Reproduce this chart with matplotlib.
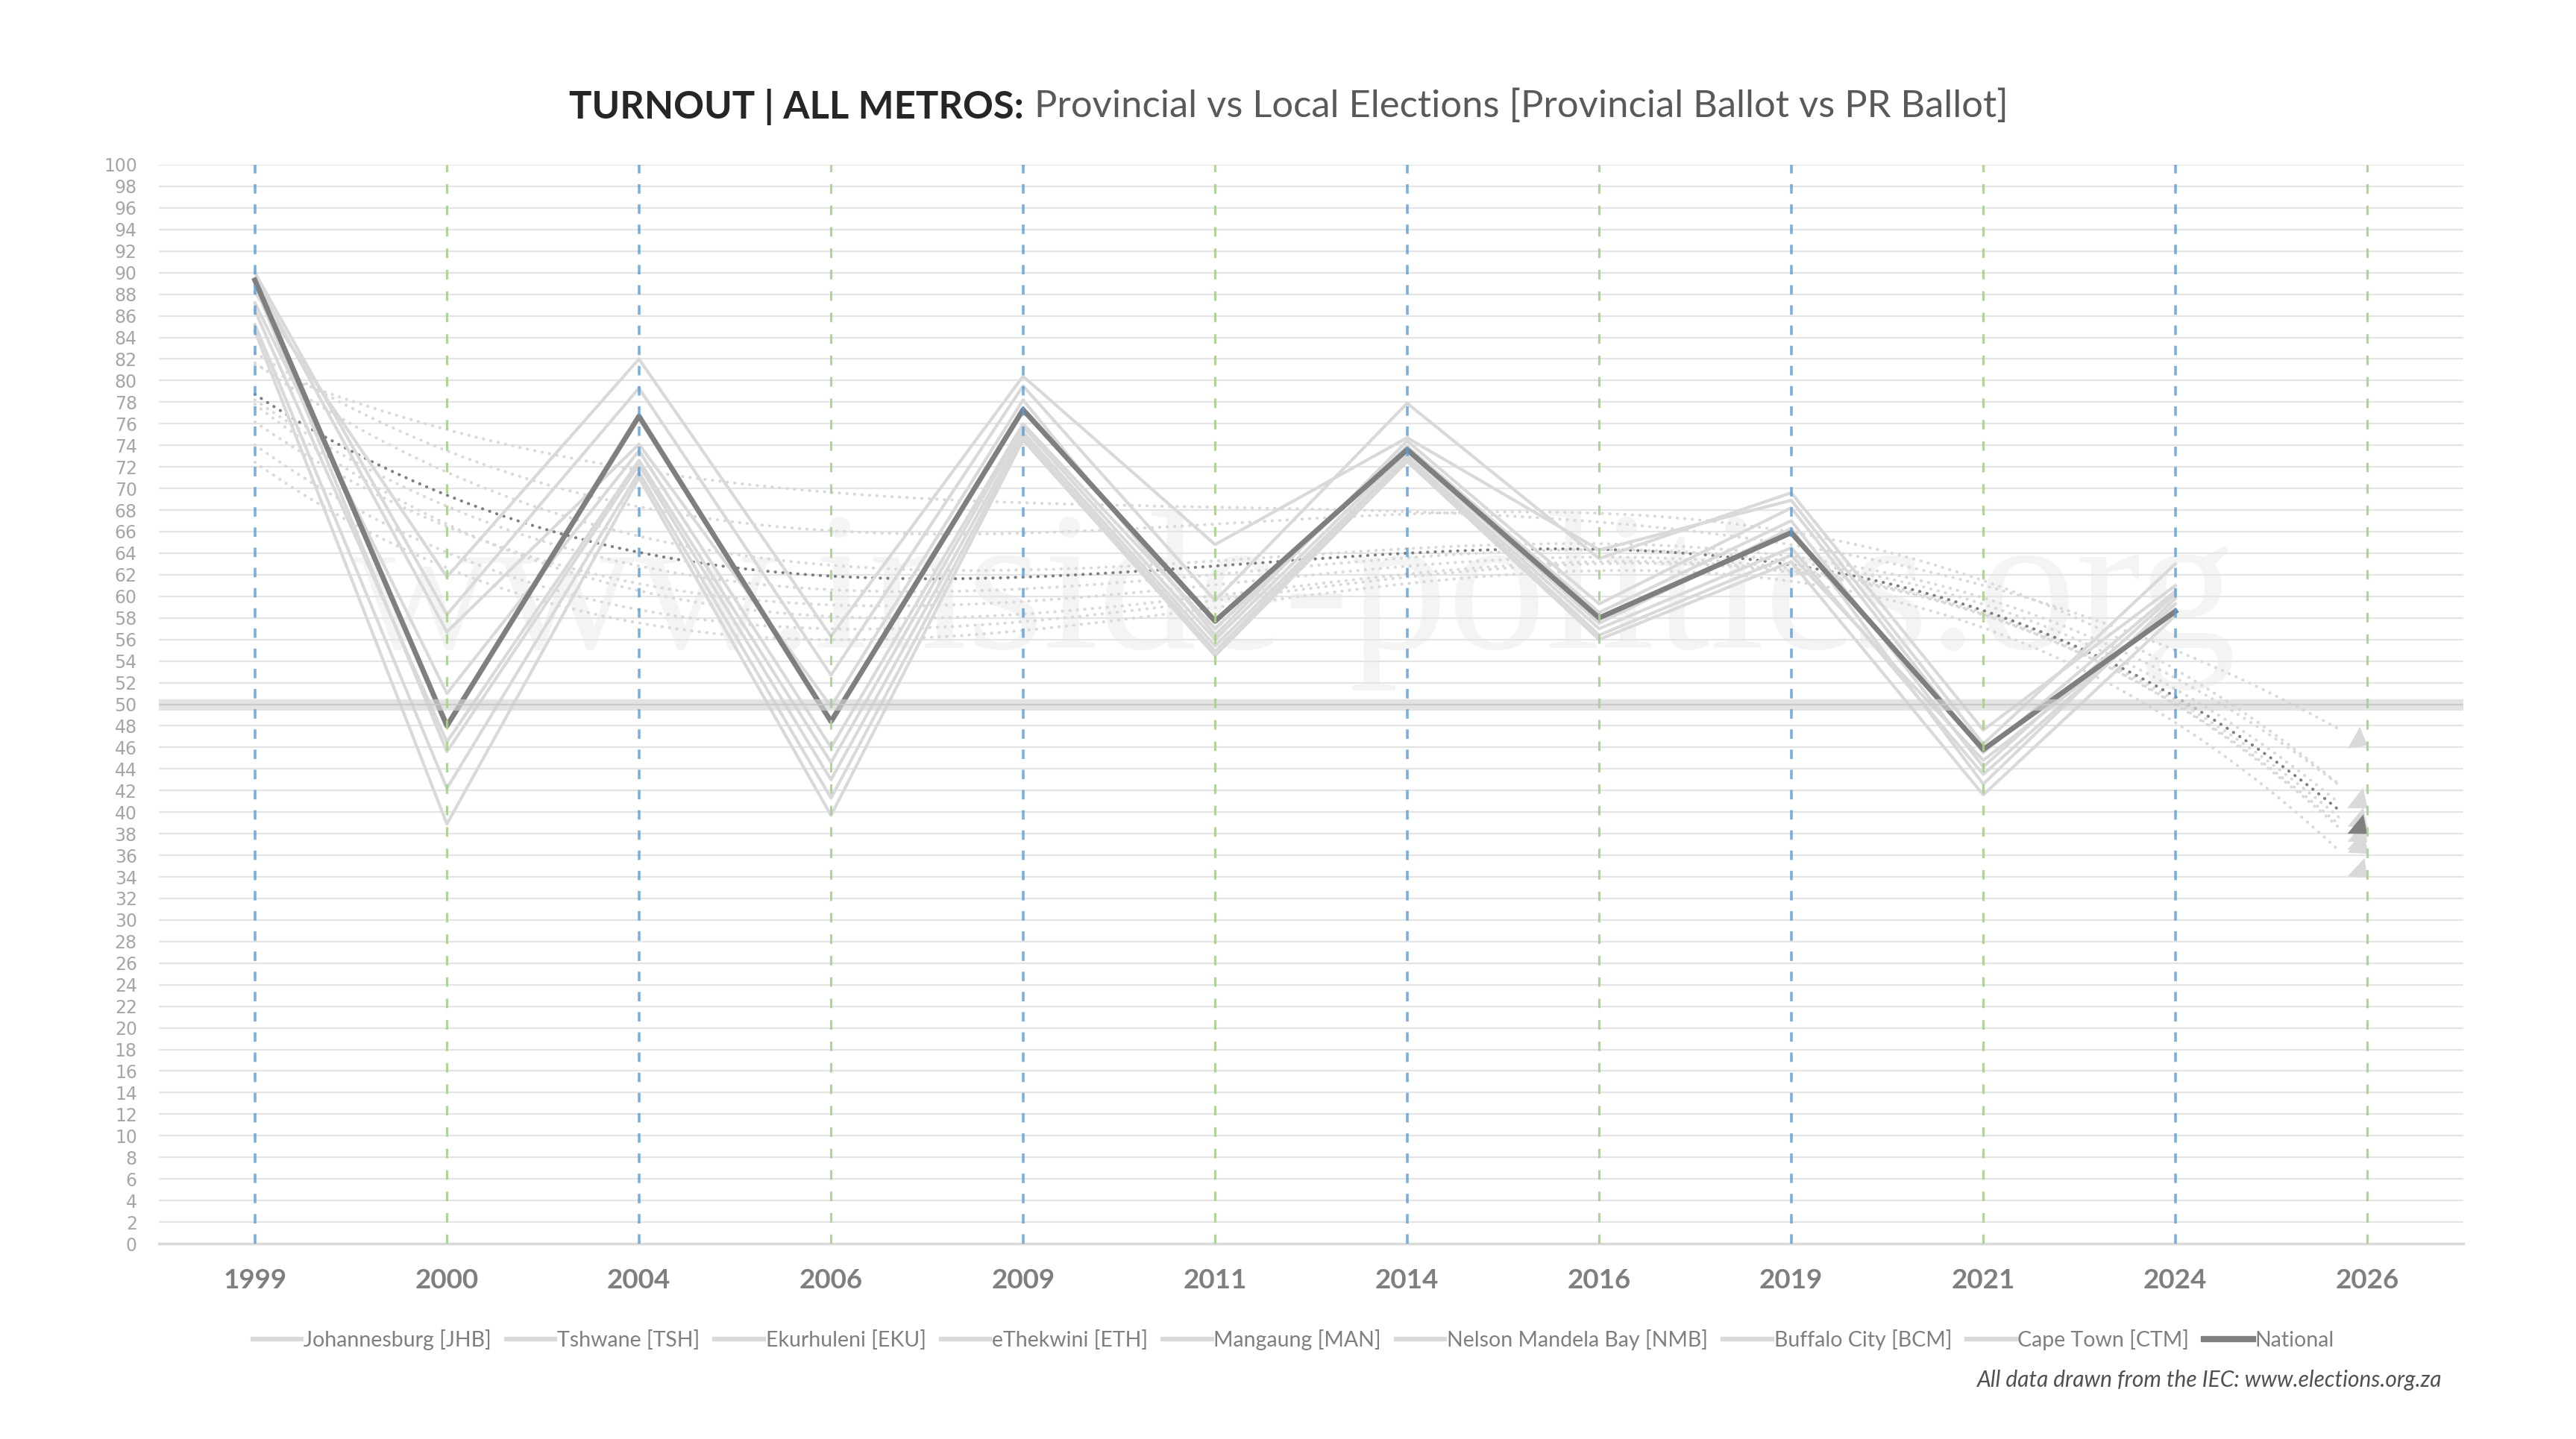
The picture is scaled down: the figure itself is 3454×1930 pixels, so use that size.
import numpy as np
import matplotlib.pyplot as plt
from matplotlib.lines import Line2D

# categories on the x axis (2026 has no data yet, trend lines run to it)
years = ["1999", "2000", "2004", "2006", "2009", "2011", "2014", "2016", "2019", "2021", "2024", "2026"]
national_years = ["1999", "2004", "2009", "2014", "2019", "2024"]
local_years = ["2000", "2006", "2011", "2016", "2021", "2026"]

# turnout % (provincial ballot / PR ballot), 1999 .. 2024
jhb = [87.2, 51.0, 73.5, 46.0, 76.0, 57.0, 73.9, 58.5, 67.0, 44.2, 60.2]
tsh = [86.5, 46.5, 72.6, 44.6, 75.7, 56.0, 73.4, 57.5, 66.3, 42.6, 59.8]
eku = [89.5, 56.7, 74.1, 49.8, 78.2, 56.4, 74.4, 59.3, 68.2, 45.5, 60.5]
eth = [88.8, 45.6, 72.2, 43.0, 75.2, 55.4, 73.0, 57.0, 64.5, 43.5, 59.3]
man = [85.2, 42.2, 71.5, 41.3, 74.8, 54.9, 72.8, 56.4, 63.8, 44.8, 58.8]
nmb = [90.0, 58.3, 79.3, 52.7, 79.5, 59.6, 77.9, 63.5, 69.6, 47.6, 61.0]
bcm = [84.6, 38.9, 71.0, 39.7, 74.5, 54.5, 72.5, 56.0, 63.2, 41.6, 58.2]
ctm = [88.2, 61.8, 82.0, 56.3, 80.4, 64.8, 74.7, 64.3, 68.9, 46.3, 63.0]
national = [89.3, 48.0, 76.7, 48.4, 77.3, 57.7, 73.6, 58.0, 65.9, 45.8, 58.6]

metro_names = ["Johannesburg [JHB]", "Tshwane [TSH]", "Ekurhuleni [EKU]", "eThekwini [ETH]",
               "Mangaung [MAN]", "Nelson Mandela Bay [NMB]", "Buffalo City [BCM]", "Cape Town [CTM]"]
metros = [jhb, tsh, eku, eth, man, nmb, bcm, ctm]

LIGHT = '#D9D9D9'
DARK = '#7F7F7F'

plt.rcParams['font.family'] = ['Lato', 'DejaVu Sans']

W, H = 3455, 1930
fig = plt.figure(figsize=(W / 100, H / 100), dpi=100)
ax = fig.add_axes([213 / W, 1 - 1668 / H, (3303 - 213) / W, (1668 - 221) / H])

x = np.arange(len(years))
xd = np.arange(len(national))
ax.set_xlim(-0.5, len(years) - 0.5)
ax.set_ylim(0, 100)
ax.set_yticks(range(0, 101, 2))
ax.set_xticks(x, years)
ax.set_axisbelow(True)
ax.grid(axis='y', color='#E4E4E4', lw=1.6)
for s in ['top', 'right', 'left']:
    ax.spines[s].set_visible(False)
ax.spines['bottom'].set_color('#D9D9D9')
ax.spines['bottom'].set_linewidth(2.5)
ax.tick_params(axis='both', length=0)
ax.tick_params(axis='x', pad=24, labelsize=26.5, labelcolor=DARK)
ax.tick_params(axis='y', pad=21, labelsize=17, labelcolor='#A6A6A6')
for lab in ax.get_xticklabels():
    lab.set_fontweight('bold')
for lab in ax.get_yticklabels():
    lab.set_family('DejaVu Sans')

# watermark
ax.text(0.4926, 0.552, "www.inside-politics.org", transform=ax.transAxes, ha='center', va='baseline',
        fontsize=190, family='Liberation Serif', color='#F4F4F4', zorder=0.1)

# polynomial (order 3) trend lines, forward one period, with arrow heads
xf = np.linspace(0, len(years) - 1, 300)
for vals, col in [(m, LIGHT) for m in metros] + [(national, DARK)]:
    coef = np.polyfit(xd, vals, 3)
    yf = np.polyval(coef, xf)
    ax.plot(xf[:-4], yf[:-4], color=col, lw=2.9, ls=(0, (0.1, 2.4)), dash_capstyle='round', zorder=2)
    ax.annotate('', xy=(xf[-1], yf[-1]), xytext=(xf[-8], yf[-8]),
                arrowprops=dict(arrowstyle='-|>,head_length=0.5,head_width=0.4', color=col,
                                lw=0, mutation_scale=30, shrinkA=0, shrinkB=0), zorder=2)

# data lines
for vals, name in zip(metros, metro_names):
    ax.plot(xd, vals, color=LIGHT, lw=3, zorder=3, label=name)
ax.plot(xd, national, color=DARK, lw=5, zorder=4, label="National")

# 50% line
ax.axhline(50, color='#D4D4D4', lw=11, alpha=0.65, zorder=5)
ax.axhline(50, color='#C8C8C8', lw=1.5, alpha=0.8, zorder=5)

# election markers
for yr in national_years:
    ax.vlines(years.index(yr), 0, 100, colors='#5B9BD5', alpha=0.8, lw=2.6, linestyles=(0, (3.5, 4)), zorder=6)
for yr in local_years:
    ax.vlines(years.index(yr), 0, 100, colors='#A9D18E', alpha=0.9, lw=2.3, linestyles=(0, (4, 5)), zorder=6)

# legend
handles = [Line2D([], [], color=LIGHT, lw=4.5) for _ in metro_names] + [Line2D([], [], color=DARK, lw=6)]
labels = metro_names + ["National"]
fig.legend(handles, labels, loc='center', bbox_to_anchor=(0.502, 1 - 1797 / H), ncol=9, frameon=False,
           fontsize=20.5, handlelength=2.3, handletextpad=0.1, columnspacing=0.7, labelcolor=DARK)

fig.text(3274 / W, 1 - 1851 / H, "All data drawn from the IEC: www.elections.org.za", ha='right', va='center',
         style='italic', fontsize=21.5, color='#505050')

# title in two weights, centred together
ty = 1 - 143 / H
t1 = fig.text(0, ty, "TURNOUT | ALL METROS:", fontsize=36.5, fontweight='bold', color='#262626', va='center')
t2 = fig.text(0, ty, "Provincial vs Local Elections [Provincial Ballot vs PR Ballot]", fontsize=36.5,
              color='#595959', va='center')
r = fig.canvas.get_renderer()
w1 = t1.get_window_extent(r).width
w2 = t2.get_window_extent(r).width
gap = 14
start = (W - (w1 + gap + w2)) / 2
t1.set_x(start / W)
t2.set_x((start + w1 + gap) / W)

fig.savefig("out.png", dpi=100, facecolor='white')
